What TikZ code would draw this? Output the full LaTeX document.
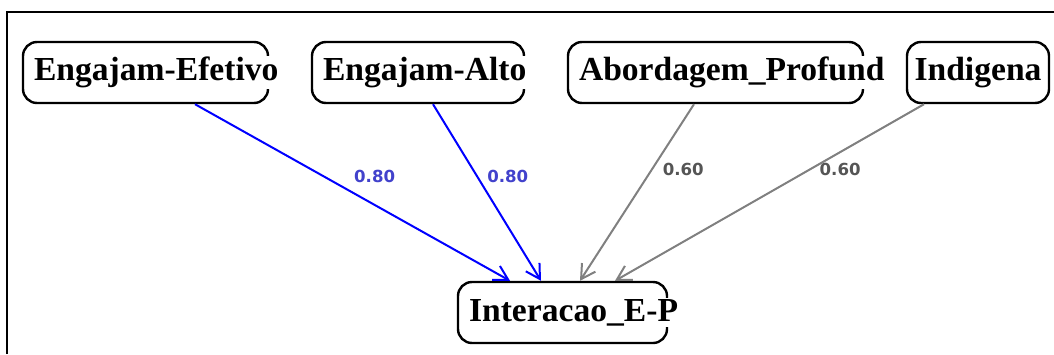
\documentclass[tikz,border=0pt]{standalone}
\usepackage{fontspec}
\setmainfont{Liberation Serif}
\newfontfamily\coeffont{DejaVu Sans}
\usepackage{xcolor}
\usetikzlibrary{arrows.meta,positioning}
\definecolor{pathblue}{RGB}{0,0,255}
\definecolor{coefblue}{RGB}{66,66,204}
\definecolor{pathgray}{RGB}{128,128,128}
\definecolor{coefgray}{RGB}{85,85,85}
% white backing so overflowing names cut the box border
\newcommand{\varname}[1]{{\setlength{\fboxsep}{0.5pt}\colorbox{white}{#1}}}

\begin{document}
\begin{tikzpicture}[
    x=0.5pt, y=-0.5pt,
    node distance=20.8pt,
    var/.style={rectangle, draw, line width=1.2pt, rounded corners=7pt, align=center, minimum height=30.5pt, inner xsep=5pt,
      execute at begin node={\exhyphenpenalty=10000\hyphenpenalty=10000}, font=\bfseries\fontsize{16.8}{20}\selectfont},
    strong/.style={-{Straight Barb[length=7pt,width=8pt]}, line width=1pt, pathblue},
    weak/.style={-{Straight Barb[length=7pt,width=8pt]}, line width=1pt, pathgray},
    coef/.style={font=\coeffont\bfseries\fontsize{8.3}{9}\selectfont, inner sep=0pt}
  ]
    \useasboundingbox (0,0) rectangle (1054,354);
    \draw[line width=1pt] (7,354) -- (7,12) -- (1054,12);

    \node[var, text width=112.5pt] (efetivo) at (145.5,72.5) {\varname{Engajam-Efetivo}};
    \node[var, text width=96pt, right=of efetivo] (alto) {\varname{Engajam-Alto}};
    \node[var, text width=137.5pt, right=of alto] (profund) {\varname{Abordagem\_Profund}};
    \node[var, text width=67pt, inner xsep=2pt, right=of profund] (indigena) {Indigena};
    \node[var, text width=94.5pt] (interacao) at (562.5,312.5) {\varname{Interacao\_E-P}};

    \draw[strong] ([xshift=24.75pt]efetivo.south) -- node[coef, text=coefblue, pos=0.41, right=14.5pt] {0.80} ([xshift=-26.25pt]interacao.north);
    \draw[strong] ([xshift=7.5pt]alto.south) -- node[coef, text=coefblue, pos=0.41, right=4.5pt] {0.80} ([xshift=-10.75pt]interacao.north);
    \draw[weak] ([xshift=-10.75pt]profund.south) -- node[coef, text=coefgray, pos=0.37, right=5pt] {0.60} ([xshift=8.75pt]interacao.north);
    \draw[weak] ([xshift=-27pt]indigena.south) -- node[coef, text=coefgray, pos=0.37, right=4.5pt] {0.60} ([xshift=26.25pt]interacao.north);
  \end{tikzpicture}
\end{document}
